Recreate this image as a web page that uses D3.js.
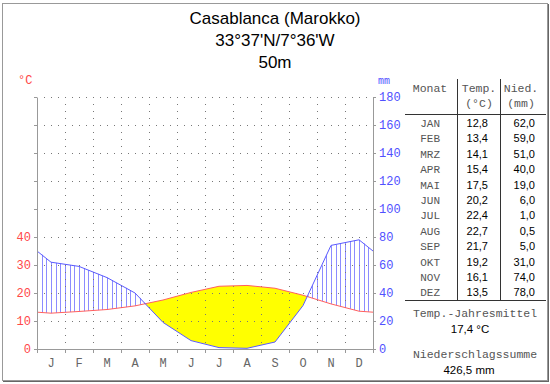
<!DOCTYPE html>
<html>
<head>
<meta charset="utf-8">
<script src="https://cdn.jsdelivr.net/npm/d3@7"></script>
<style>
  body { margin: 0; background: #fff; }
  svg { display: block; }
  .mono { font-family: "Liberation Mono", "DejaVu Sans Mono", monospace; }
  .sans { font-family: "Liberation Sans", Arial, sans-serif; }
</style>
</head>
<body>
<div id="chart"></div>
<script>
const titleLines = ['Casablanca (Marokko)', "33°37'N/7°36'W", '50m'];
const monthInitials = ['J', 'F', 'M', 'A', 'M', 'J', 'J', 'A', 'S', 'O', 'N', 'D'];
const monthNames = ['JAN', 'FEB', 'MRZ', 'APR', 'MAI', 'JUN', 'JUL', 'AUG', 'SEP', 'OKT', 'NOV', 'DEZ'];
const temps = [12.8, 13.4, 14.1, 15.4, 17.5, 20.2, 22.4, 22.7, 21.7, 19.2, 16.1, 13.5];
const precip = [62.0, 59.0, 51.0, 40.0, 19.0, 6.0, 1.0, 0.5, 5.0, 31.0, 74.0, 78.0];
const tempTicks = [0, 10, 20, 30, 40, 50, 60, 70, 80, 90];
const tempLabels = [0, 10, 20, 30, 40];
const precipTicks = [0, 20, 40, 60, 80, 100, 120, 140, 160, 180];
const meanTemp = '17,4 °C';
const totalPrecip = '426,5 mm';

const width = 550;
const height = 384;
const plotLeft = 37;
const plotRight = 373;
const plotTop = 97;
const plotBottom = 349;
const hatchPerMonth = 6;

const tempColor = '#ff6060';
const precipColor = '#5a5aff';

const svg = d3.select('#chart').append('svg')
    .attr('width', width)
    .attr('height', height);

const x = d3.scaleLinear().domain([0, 12]).range([plotLeft, plotRight]);
const yT = d3.scaleLinear().domain([0, 90]).range([plotBottom, plotTop]);
const yP = d3.scaleLinear().domain([0, 180]).range([plotBottom, plotTop]);

// curve vertices: month centres plus both edges (mean of Dec/Jan)
function buildVertices () {
    const pts = [{ m: 0, t: (temps[0] + temps[11]) / 2, p: (precip[0] + precip[11]) / 2 }];
    temps.forEach((t, i) => pts.push({ m: i + 0.5, t: t, p: precip[i] }));
    pts.push({ m: 12, t: pts[0].t, p: pts[0].p });
    return pts;
}
const vertices = buildVertices();

function valueAt (m) {
    for (let i = 0; i < vertices.length - 1; i++) {
        const a = vertices[i], b = vertices[i + 1];
        if (m >= a.m && m <= b.m) {
            const f = (m - a.m) / (b.m - a.m);
            return { m: m, t: a.t + (b.t - a.t) * f, p: a.p + (b.p - a.p) * f };
        }
    }
    return vertices[vertices.length - 1];
}

// add crossing points so min(t, p/2) stays linear between points
const areaPts = [];
vertices.forEach((v, i) => {
    areaPts.push(v);
    const n = vertices[i + 1];
    if (!n) return;
    const da = v.t - v.p / 2, db = n.t - n.p / 2;
    if (da * db < 0) {
        areaPts.push(valueAt(v.m + (n.m - v.m) * da / (da - db)));
    }
});

// arid period
svg.append('path')
    .datum(areaPts)
    .attr('fill', '#ffff00')
    .attr('d', d3.area()
        .x(d => x(d.m))
        .y0(d => yT(d.t))
        .y1(d => yT(Math.min(d.t, d.p / 2))));

// humid period hatching
const hatch = d3.range(0, 12 * hatchPerMonth + 1)
    .map(k => valueAt(k / hatchPerMonth))
    .filter(d => d.p / 2 > d.t);
svg.append('g').selectAll('line')
    .data(hatch)
    .join('line')
    .attr('x1', d => Math.round(x(d.m)) + 0.5)
    .attr('x2', d => Math.round(x(d.m)) + 0.5)
    .attr('y1', d => yP(d.p))
    .attr('y2', d => yT(d.t))
    .attr('stroke', '#8c8cff')
    .attr('stroke-width', 1);

// dotted grid
const grid = svg.append('g')
    .attr('stroke', '#777')
    .attr('stroke-width', 1)
    .attr('stroke-dasharray', '1,6');
grid.selectAll('.h')
    .data(tempTicks.slice(1))
    .join('line')
    .attr('x1', plotLeft + 7)
    .attr('x2', plotRight)
    .attr('y1', d => yT(d) + 0.5)
    .attr('y2', d => yT(d) + 0.5);
grid.selectAll('.v')
    .data(d3.range(1, 12))
    .join('line')
    .attr('x1', d => x(d) + 0.5)
    .attr('x2', d => x(d) + 0.5)
    .attr('y1', plotTop)
    .attr('y2', plotBottom - 3);

// curves
svg.append('path')
    .datum(vertices)
    .attr('fill', 'none')
    .attr('stroke', tempColor)
    .attr('d', d3.line().x(d => x(d.m)).y(d => yT(d.t)));
svg.append('path')
    .datum(vertices)
    .attr('fill', 'none')
    .attr('stroke', precipColor)
    .attr('d', d3.line().x(d => x(d.m)).y(d => yP(d.p)));

// axes
function styleAxis (g, color) {
    g.select('.domain').attr('stroke', '#999');
    g.selectAll('.tick line').attr('stroke', '#999');
    g.selectAll('.tick text')
        .attr('class', 'mono')
        .attr('fill', color)
        .style('font-size', '12px');
}

svg.append('g')
    .attr('transform', `translate(${plotLeft},0)`)
    .call(d3.axisLeft(yT).tickValues(tempTicks).tickSize(3).tickSizeOuter(0)
        .tickFormat(d => tempLabels.includes(d) ? d : ''))
    .call(g => styleAxis(g, '#ff4848'));

svg.append('g')
    .attr('transform', `translate(${plotRight},0)`)
    .call(d3.axisRight(yP).tickValues(precipTicks).tickSize(3).tickSizeOuter(0))
    .call(g => styleAxis(g, '#5050ff'));

svg.append('g')
    .attr('transform', `translate(0,${plotBottom})`)
    .call(d3.axisBottom(x).tickValues(d3.range(0, 13)).tickSize(4).tickSizeOuter(0).tickFormat(''))
    .call(g => styleAxis(g, '#555'));

svg.append('g').selectAll('text')
    .data(monthInitials)
    .join('text')
    .attr('class', 'mono')
    .attr('x', (d, i) => x(i + 0.5))
    .attr('y', 367)
    .attr('text-anchor', 'middle')
    .attr('fill', '#666')
    .style('font-size', '12px')
    .text(d => d);

// unit labels
svg.append('text')
    .attr('class', 'mono')
    .attr('x', 18)
    .attr('y', 84)
    .attr('fill', '#ff4848')
    .style('font-size', '12px')
    .text('°C');
svg.append('text')
    .attr('class', 'mono')
    .attr('x', 378)
    .attr('y', 84)
    .attr('fill', '#5050ff')
    .style('font-size', '10px')
    .text('mm');

// title
svg.append('g').selectAll('text')
    .data(titleLines)
    .join('text')
    .attr('class', 'sans')
    .attr('x', 275)
    .attr('y', (d, i) => 24 + i * 22)
    .attr('text-anchor', 'middle')
    .attr('fill', '#000')
    .style('font-size', '17px')
    .text(d => d);

// table
const table = svg.append('g');
const rowY = i => 127 + i * 15.4;
const lineStyle = sel => sel.attr('stroke', '#333').attr('stroke-width', 1);

table.append('line').attr('x1', 457.5).attr('x2', 457.5).attr('y1', 79).attr('y2', 300).call(lineStyle);
table.append('line').attr('x1', 500.5).attr('x2', 500.5).attr('y1', 79).attr('y2', 300).call(lineStyle);
table.append('line').attr('x1', 405).attr('x2', 546).attr('y1', 114.5).attr('y2', 114.5).call(lineStyle);
table.append('line').attr('x1', 405).attr('x2', 546).attr('y1', 300.5).attr('y2', 300.5).call(lineStyle);

const headers = [
    { text: 'Monat', x: 430, y: 92 },
    { text: 'Temp.', x: 479, y: 92 },
    { text: '(°C)', x: 479, y: 107 },
    { text: 'Nied.', x: 521, y: 92 },
    { text: '(mm)', x: 521, y: 107 }
];
table.selectAll('.hdr')
    .data(headers)
    .join('text')
    .attr('class', 'mono')
    .attr('x', d => d.x)
    .attr('y', d => d.y)
    .attr('text-anchor', 'middle')
    .attr('fill', '#555')
    .style('font-size', '11.5px')
    .text(d => d.text);

table.selectAll('.mon')
    .data(monthNames)
    .join('text')
    .attr('class', 'mono')
    .attr('x', 440)
    .attr('y', (d, i) => rowY(i))
    .attr('text-anchor', 'end')
    .attr('fill', '#555')
    .style('font-size', '11px')
    .text(d => d);

const fmt = v => v.toFixed(1).replace('.', ',');
table.selectAll('.tmp')
    .data(temps)
    .join('text')
    .attr('class', 'sans')
    .attr('x', 488)
    .attr('y', (d, i) => rowY(i))
    .attr('text-anchor', 'end')
    .style('font-size', '11px')
    .text(fmt);
table.selectAll('.prc')
    .data(precip)
    .join('text')
    .attr('class', 'sans')
    .attr('x', 535)
    .attr('y', (d, i) => rowY(i))
    .attr('text-anchor', 'end')
    .style('font-size', '11px')
    .text(fmt);

const summary = [
    { text: 'Temp.-Jahresmittel', x: 475, y: 317, cls: 'mono', color: '#555', size: '11.5px' },
    { text: meanTemp, x: 470, y: 333, cls: 'sans', color: '#000', size: '11.5px' },
    { text: 'Niederschlagssumme', x: 475, y: 358, cls: 'mono', color: '#555', size: '11.5px' },
    { text: totalPrecip, x: 469, y: 374, cls: 'sans', color: '#000', size: '11.5px' }
];
table.selectAll('.sum')
    .data(summary)
    .join('text')
    .attr('class', d => d.cls)
    .attr('x', d => d.x)
    .attr('y', d => d.y)
    .attr('text-anchor', 'middle')
    .attr('fill', d => d.color)
    .style('font-size', d => d.size)
    .text(d => d.text);

// frame
svg.append('rect')
    .attr('x', 2.5).attr('y', 3.5)
    .attr('width', 545).attr('height', 377)
    .attr('fill', 'none')
    .attr('stroke', '#999');
svg.append('path')
    .attr('d', 'M548.5,4V382M3,381.5H549')
    .attr('fill', 'none')
    .attr('stroke', '#666');
</script>
</body>
</html>
